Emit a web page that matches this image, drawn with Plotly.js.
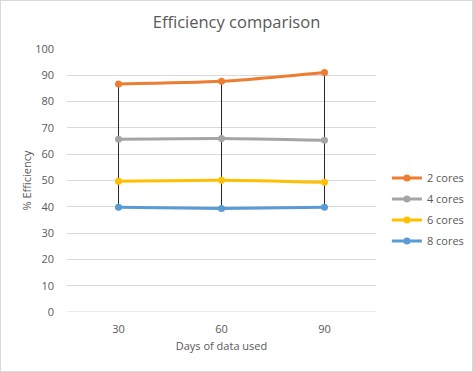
<!DOCTYPE html>
<html><head><meta charset="utf-8">
<script src="https://cdn.plot.ly/plotly-3.0.1.min.js"></script>
<style>
html,body{margin:0;padding:0;background:#fff;}
#wrap{width:473px;height:372px;box-sizing:border-box;border:1px solid #d9d9d9;position:relative;overflow:hidden;}
#chart{position:absolute;left:-1px;top:-1px;width:473px;height:372px;}
</style>
</head><body>
<div id="wrap"><div id="chart"></div></div>
<script>
const days = ["30", "60", "90"];
const seriesNames = ["2 cores", "4 cores", "6 cores", "8 cores"];
const cores2 = [86.7, 87.7, 91.1];
const cores4 = [65.7, 66.0, 65.3];
const cores6 = [49.7, 50.1, 49.3];
const cores8 = [39.8, 39.4, 39.8];
const colors = ["#ED7D31", "#A5A5A5", "#FFC000", "#5B9BD5"];

const allSeries = [cores2, cores4, cores6, cores8];
// drop lines from highest to lowest series at each category
const dropX = [], dropY = [];
days.forEach((d, i) => {
  const vals = allSeries.map(s => s[i]);
  dropX.push(d, d, null);
  dropY.push(Math.max(...vals), Math.min(...vals), null);
});

const traces = [{
  x: dropX, y: dropY, mode: "lines", type: "scatter",
  line: {color: "#262626", width: 1}, showlegend: false, hoverinfo: "skip"
}];
allSeries.forEach((s, k) => {
  traces.push({
    x: days, y: s, name: seriesNames[k], type: "scatter", mode: "lines+markers",
    legendgroup: "g" + k,
    line: {color: colors[k], width: 3, shape: "spline", smoothing: 0.6},
    marker: {color: colors[k], size: 7}
  });
});

const font = {family: "Open Sans, Lato, sans-serif", color: "#595959", size: 11};
const layout = {
  width: 473, height: 372,
  margin: {l: 67, r: 97, t: 49, b: 60, autoexpand: false},
  paper_bgcolor: "#fff", plot_bgcolor: "#fff",
  font: font,
  title: {text: "Efficiency comparison", x: 0.5, xanchor: "center", y: 0.94, yanchor: "middle",
          font: {family: "Open Sans, Lato, sans-serif", size: 16.5, color: "#595959"}},
  xaxis: {type: "category", range: [-0.5, 2.5], showgrid: false, zeroline: false, automargin: false,
          showline: false, ticks: "", ticklabelstandoff: 9, tickfont: {size: 11, color: "#595959"},
          title: {text: "Days of data used", font: {size: 11, color: "#595959"}, standoff: 7}},
  yaxis: {range: [0, 100], dtick: 10, showgrid: true, gridcolor: "#d9d9d9", gridwidth: 1, automargin: false,
          zeroline: false, showline: false, ticks: "", ticklen: 0, ticklabelstandoff: 12,
          tickfont: {size: 11, color: "#595959"},
          title: {text: "% Efficiency", font: {size: 11, color: "#595959"}, standoff: 1}},
  legend: {xref: "container", x: 0.818, xanchor: "left", y: 0.39, yanchor: "middle", bgcolor: "rgba(0,0,0,0)",
           font: {size: 11, color: "#595959"}, itemwidth: 30, tracegroupgap: 2},
  shapes: [{type: "line", xref: "paper", yref: "y", x0: 0, x1: 1, y0: 0, y1: 0,
            line: {color: "#d9d9d9", width: 1}, layer: "below"}]
};
Plotly.newPlot("chart", traces, layout, {displayModeBar: false, staticPlot: true});
</script>
</body></html>
